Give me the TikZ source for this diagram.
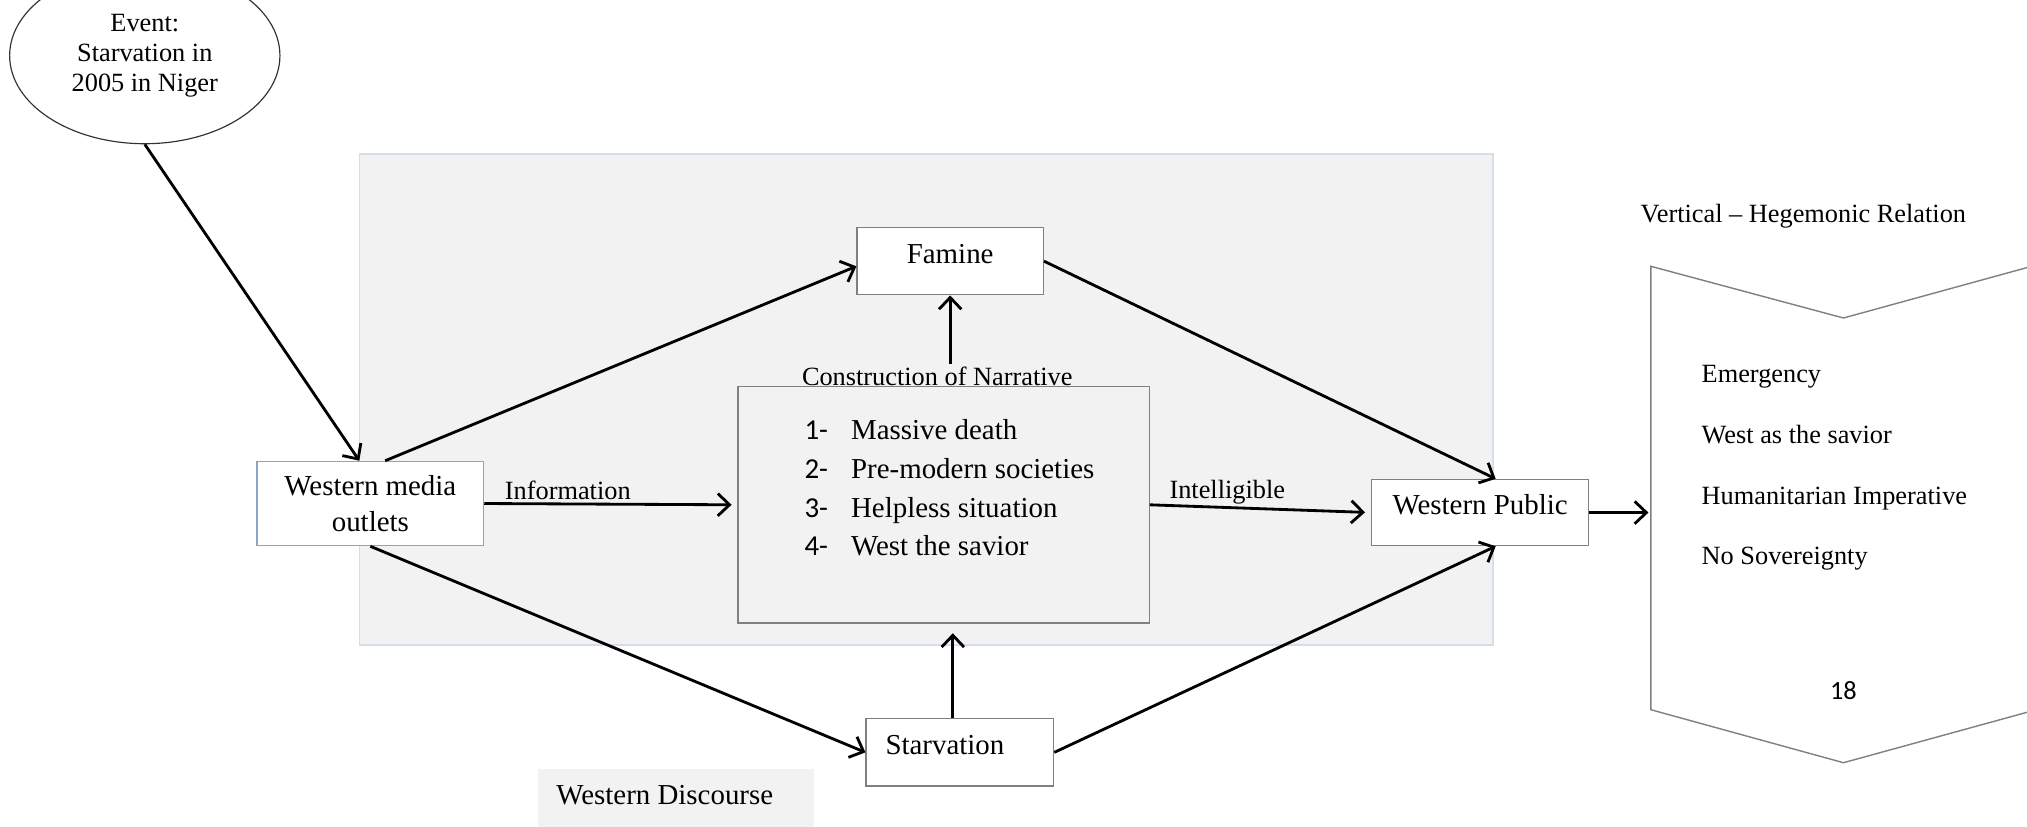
\documentclass[tikz,border=0pt]{standalone}
\usepackage{fontspec}
\setmainfont{Liberation Serif}
\newfontfamily\calibrifont{Carlito}
\usetikzlibrary{shapes.geometric, arrows.meta}
\definecolor{discgray}{HTML}{F2F2F2}
\definecolor{boxgray}{HTML}{808080}
\definecolor{mediablue}{HTML}{8EA4C6}
\definecolor{edgeblue}{HTML}{D5DEEC}

\begin{document}
\begin{tikzpicture}[x=0.55pt, y=-0.55pt,
  box/.style={draw=boxgray, line width=0.6pt, fill=white, font=\fontsize{12.3pt}{15.4pt}\selectfont},
  flow/.style={line width=1.2pt, -{Straight Barb[length=5pt,width=9.5pt,line width=1.2pt]}},
  lbl/.style={font=\fontsize{11.2pt}{13pt}\selectfont, inner sep=1pt}]
\useasboundingbox (0,0) rectangle (1568,639.5);
\draw[edgeblue, fill=discgray, line width=0.6pt] (278,119) rectangle (1155,499);
\fill[discgray] (416,595) rectangle (630,645);

\node[ellipse, draw=black!80, line width=0.5pt, minimum width=115pt, minimum height=75pt, inner sep=0pt, align=center, font=\fontsize{11.2pt}{12.65pt}\selectfont] (event) at (112,43) {Event:\\Starvation in\\2005 in Niger};
\node[box, draw=mediablue, minimum width=96.3pt, minimum height=35.8pt, align=center] (wmo) at (286.5,389.5) {Western media\\outlets};
\node[box, minimum width=79.2pt, minimum height=28.6pt, text height=8pt, text depth=6pt] (famine) at (735,202) {Famine};
\node[box, fill=discgray, minimum width=174.9pt, minimum height=100.7pt] (narr) at (730,390.5) {};
\node[box, text width=63.25pt, inner xsep=8.25pt, minimum height=28.6pt, align=left, text height=8pt, text depth=6pt] (starv) at (742.5,582) {Starvation};
\node[box, minimum width=92.4pt, minimum height=28.1pt, text height=8pt, text depth=6pt] (wp) at (1145,396.5) {Western Public};

\node[lbl] (cn) at (725,291) {Construction of Narrative};
\node[anchor=base west, inner sep=0pt, font=\fontsize{12.3pt}{16.5pt}\selectfont] (list) at (622,340) {\begin{tabular}[t]{@{}p{19.8pt}@{}l@{}}
{\calibrifont 1-} & Massive death\\
{\calibrifont 2-} & Pre-modern societies\\
{\calibrifont 3-} & Helpless situation\\
{\calibrifont 4-} & West the savior
\end{tabular}};

\draw[flow] (event.south) -- ([xshift=-4.7pt]wmo.north);
\draw[flow] ([xshift=6.3pt]wmo.north) -- ([yshift=-2.2pt]famine.west);
\draw[flow, shorten >=2.5pt] (wmo.east) -- node[lbl, above, pos=0.33] (info) {Information} (narr.west);
\draw[flow] (wmo.south) -- (starv.west);
\draw[flow] (famine.east) -- ([xshift=6.6pt]wp.north);
\draw[flow, shorten >=2.5pt] (narr.east) -- node[lbl, above, pos=0.35] (intel) {Intelligible} (wp.west);
\draw[flow] (starv.east) -- ([xshift=6.6pt]wp.south);
\draw[flow] (cn.north -| famine.south) -- (famine.south);
\draw[flow, shorten >=4pt] ([xshift=-3pt]starv.north) -- ([xshift=-3pt]starv.north |- narr.south);

\coordinate (chev) at (1277,396.5);
\draw[flow, shorten >=1pt] (wp.east) -- (chev);
\draw[boxgray, line width=0.6pt] (1568,207) -- (1426,246) -- (1277,206) -- (1277,549) -- (1426,590) -- (1568,551);
\node[lbl] (vh) at (1395,167) {Vertical -- Hegemonic Relation};
\node[anchor=base west, inner sep=0pt, font=\fontsize{11.2pt}{25.85pt}\selectfont] (items) at (1316,296) {\begin{tabular}[t]{@{}l@{}}
Emergency\\
West as the savior\\
Humanitarian Imperative\\
No Sovereignty
\end{tabular}};
\node[font=\calibrifont\fontsize{11.2pt}{13pt}\selectfont] (pg) at (1426,534) {18};

\node[anchor=west, inner sep=0pt, font=\fontsize{12.3pt}{14pt}\selectfont] (wd) at (430,615) {Western Discourse};
\end{tikzpicture}
\end{document}
